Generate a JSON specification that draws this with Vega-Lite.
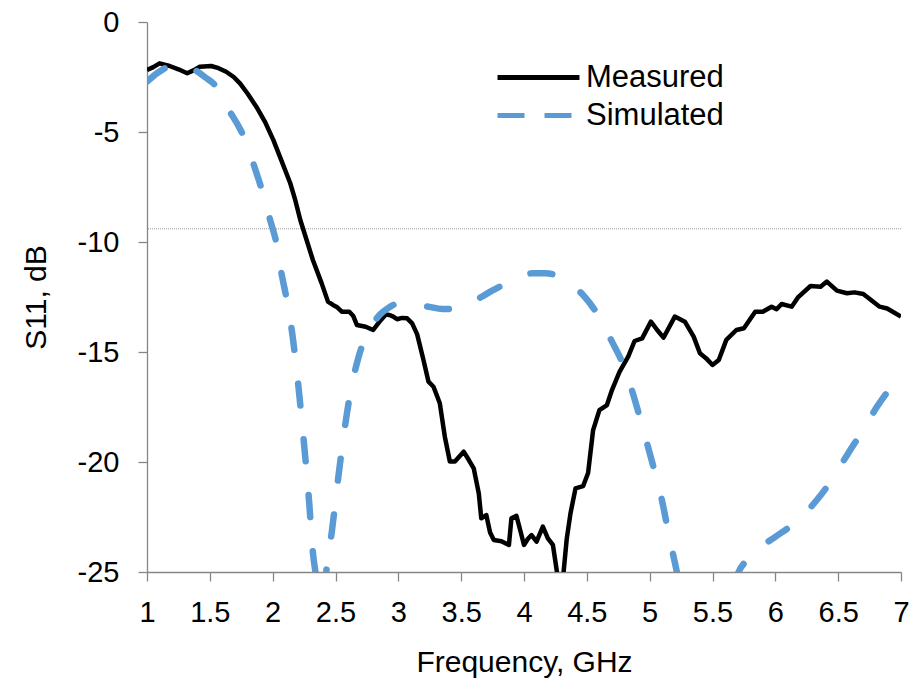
{
  "$schema": "https://vega.github.io/schema/vega-lite/v6.json",
  "width": 754,
  "height": 550,
  "autosize": "none",
  "padding": {"left": 147, "top": 22, "right": 11, "bottom": 116},
  "background": "white",
  "config": {
    "view": {"stroke": null},
    "font": "Liberation Sans",
    "axis": {
      "grid": false,
      "domainColor": "#868686",
      "domainWidth": 1.3,
      "tickColor": "#868686",
      "tickWidth": 1.3,
      "tickSize": 9,
      "labelFont": "Liberation Sans",
      "labelFontSize": 29,
      "labelColor": "#000000",
      "titleFont": "Liberation Sans",
      "titleFontSize": 30,
      "titleFontWeight": "normal",
      "titleColor": "#000000"
    },
    "legend": {
      "labelFont": "Liberation Sans",
      "labelFontSize": 31,
      "labelColor": "#000000"
    }
  },
  "datasets": {
    "curves": [
      {"f": 1.00, "v": -2.18, "series": "Measured"},
      {"f": 1.05, "v": -2.05, "series": "Measured"},
      {"f": 1.10, "v": -1.88, "series": "Measured"},
      {"f": 1.18, "v": -2.0, "series": "Measured"},
      {"f": 1.25, "v": -2.15, "series": "Measured"},
      {"f": 1.32, "v": -2.33, "series": "Measured"},
      {"f": 1.37, "v": -2.2, "series": "Measured"},
      {"f": 1.42, "v": -2.03, "series": "Measured"},
      {"f": 1.51, "v": -2.0, "series": "Measured"},
      {"f": 1.57, "v": -2.1, "series": "Measured"},
      {"f": 1.63, "v": -2.26, "series": "Measured"},
      {"f": 1.69, "v": -2.5, "series": "Measured"},
      {"f": 1.74, "v": -2.79, "series": "Measured"},
      {"f": 1.80, "v": -3.25, "series": "Measured"},
      {"f": 1.87, "v": -3.85, "series": "Measured"},
      {"f": 1.94, "v": -4.55, "series": "Measured"},
      {"f": 2.005, "v": -5.36, "series": "Measured"},
      {"f": 2.07, "v": -6.3, "series": "Measured"},
      {"f": 2.14, "v": -7.33, "series": "Measured"},
      {"f": 2.18, "v": -8.1, "series": "Measured"},
      {"f": 2.22, "v": -9.0, "series": "Measured"},
      {"f": 2.27, "v": -9.91, "series": "Measured"},
      {"f": 2.32, "v": -10.82, "series": "Measured"},
      {"f": 2.39, "v": -11.88, "series": "Measured"},
      {"f": 2.44, "v": -12.71, "series": "Measured"},
      {"f": 2.48, "v": -12.86, "series": "Measured"},
      {"f": 2.51, "v": -12.95, "series": "Measured"},
      {"f": 2.55, "v": -13.17, "series": "Measured"},
      {"f": 2.61, "v": -13.17, "series": "Measured"},
      {"f": 2.64, "v": -13.35, "series": "Measured"},
      {"f": 2.67, "v": -13.77, "series": "Measured"},
      {"f": 2.74, "v": -13.85, "series": "Measured"},
      {"f": 2.80, "v": -14.0, "series": "Measured"},
      {"f": 2.85, "v": -13.62, "series": "Measured"},
      {"f": 2.90, "v": -13.3, "series": "Measured"},
      {"f": 2.93, "v": -13.32, "series": "Measured"},
      {"f": 2.96, "v": -13.39, "series": "Measured"},
      {"f": 2.99, "v": -13.51, "series": "Measured"},
      {"f": 3.03, "v": -13.45, "series": "Measured"},
      {"f": 3.07, "v": -13.47, "series": "Measured"},
      {"f": 3.11, "v": -13.7, "series": "Measured"},
      {"f": 3.15, "v": -14.2, "series": "Measured"},
      {"f": 3.20, "v": -15.36, "series": "Measured"},
      {"f": 3.24, "v": -16.35, "series": "Measured"},
      {"f": 3.28, "v": -16.58, "series": "Measured"},
      {"f": 3.33, "v": -17.33, "series": "Measured"},
      {"f": 3.37, "v": -18.85, "series": "Measured"},
      {"f": 3.41, "v": -19.98, "series": "Measured"},
      {"f": 3.45, "v": -19.98, "series": "Measured"},
      {"f": 3.52, "v": -19.53, "series": "Measured"},
      {"f": 3.56, "v": -19.9, "series": "Measured"},
      {"f": 3.60, "v": -20.29, "series": "Measured"},
      {"f": 3.64, "v": -21.42, "series": "Measured"},
      {"f": 3.66, "v": -22.56, "series": "Measured"},
      {"f": 3.70, "v": -22.41, "series": "Measured"},
      {"f": 3.73, "v": -23.2, "series": "Measured"},
      {"f": 3.76, "v": -23.55, "series": "Measured"},
      {"f": 3.82, "v": -23.6, "series": "Measured"},
      {"f": 3.88, "v": -23.77, "series": "Measured"},
      {"f": 3.90, "v": -22.56, "series": "Measured"},
      {"f": 3.94, "v": -22.45, "series": "Measured"},
      {"f": 3.97, "v": -23.1, "series": "Measured"},
      {"f": 4.00, "v": -23.77, "series": "Measured"},
      {"f": 4.03, "v": -23.5, "series": "Measured"},
      {"f": 4.06, "v": -23.32, "series": "Measured"},
      {"f": 4.10, "v": -23.62, "series": "Measured"},
      {"f": 4.15, "v": -22.94, "series": "Measured"},
      {"f": 4.19, "v": -23.47, "series": "Measured"},
      {"f": 4.23, "v": -23.77, "series": "Measured"},
      {"f": 4.27, "v": -25.3, "series": "Measured"},
      {"f": 4.29, "v": -26.5, "series": "Measured"},
      {"f": 4.31, "v": -25.3, "series": "Measured"},
      {"f": 4.34, "v": -23.5, "series": "Measured"},
      {"f": 4.37, "v": -22.33, "series": "Measured"},
      {"f": 4.41, "v": -21.2, "series": "Measured"},
      {"f": 4.47, "v": -21.1, "series": "Measured"},
      {"f": 4.51, "v": -20.5, "series": "Measured"},
      {"f": 4.55, "v": -18.55, "series": "Measured"},
      {"f": 4.60, "v": -17.64, "series": "Measured"},
      {"f": 4.66, "v": -17.41, "series": "Measured"},
      {"f": 4.70, "v": -16.73, "series": "Measured"},
      {"f": 4.76, "v": -15.9, "series": "Measured"},
      {"f": 4.83, "v": -15.2, "series": "Measured"},
      {"f": 4.88, "v": -14.5, "series": "Measured"},
      {"f": 4.94, "v": -14.38, "series": "Measured"},
      {"f": 5.01, "v": -13.62, "series": "Measured"},
      {"f": 5.06, "v": -14.0, "series": "Measured"},
      {"f": 5.11, "v": -14.35, "series": "Measured"},
      {"f": 5.20, "v": -13.39, "series": "Measured"},
      {"f": 5.28, "v": -13.62, "series": "Measured"},
      {"f": 5.35, "v": -14.3, "series": "Measured"},
      {"f": 5.40, "v": -15.06, "series": "Measured"},
      {"f": 5.45, "v": -15.29, "series": "Measured"},
      {"f": 5.50, "v": -15.59, "series": "Measured"},
      {"f": 5.55, "v": -15.36, "series": "Measured"},
      {"f": 5.61, "v": -14.45, "series": "Measured"},
      {"f": 5.69, "v": -14.0, "series": "Measured"},
      {"f": 5.75, "v": -13.92, "series": "Measured"},
      {"f": 5.84, "v": -13.17, "series": "Measured"},
      {"f": 5.90, "v": -13.17, "series": "Measured"},
      {"f": 5.97, "v": -12.94, "series": "Measured"},
      {"f": 6.01, "v": -13.06, "series": "Measured"},
      {"f": 6.05, "v": -12.82, "series": "Measured"},
      {"f": 6.13, "v": -12.94, "series": "Measured"},
      {"f": 6.18, "v": -12.52, "series": "Measured"},
      {"f": 6.28, "v": -12.0, "series": "Measured"},
      {"f": 6.36, "v": -12.03, "series": "Measured"},
      {"f": 6.41, "v": -11.8, "series": "Measured"},
      {"f": 6.49, "v": -12.21, "series": "Measured"},
      {"f": 6.57, "v": -12.33, "series": "Measured"},
      {"f": 6.63, "v": -12.29, "series": "Measured"},
      {"f": 6.70, "v": -12.36, "series": "Measured"},
      {"f": 6.83, "v": -12.94, "series": "Measured"},
      {"f": 6.89, "v": -13.02, "series": "Measured"},
      {"f": 7.00, "v": -13.39, "series": "Measured"},
      {"f": 1.00, "v": -2.71, "series": "Simulated"},
      {"f": 1.08, "v": -2.33, "series": "Simulated"},
      {"f": 1.17, "v": -2.03, "series": "Simulated"},
      {"f": 1.25, "v": -1.95, "series": "Simulated"},
      {"f": 1.32, "v": -2.0, "series": "Simulated"},
      {"f": 1.38, "v": -2.18, "series": "Simulated"},
      {"f": 1.46, "v": -2.5, "series": "Simulated"},
      {"f": 1.55, "v": -2.94, "series": "Simulated"},
      {"f": 1.60, "v": -3.45, "series": "Simulated"},
      {"f": 1.66, "v": -4.08, "series": "Simulated"},
      {"f": 1.72, "v": -4.65, "series": "Simulated"},
      {"f": 1.77, "v": -5.21, "series": "Simulated"},
      {"f": 1.85, "v": -6.5, "series": "Simulated"},
      {"f": 1.91, "v": -7.56, "series": "Simulated"},
      {"f": 1.98, "v": -9.0, "series": "Simulated"},
      {"f": 2.03, "v": -10.06, "series": "Simulated"},
      {"f": 2.07, "v": -11.42, "series": "Simulated"},
      {"f": 2.11, "v": -12.56, "series": "Simulated"},
      {"f": 2.15, "v": -13.92, "series": "Simulated"},
      {"f": 2.20, "v": -16.3, "series": "Simulated"},
      {"f": 2.25, "v": -19.2, "series": "Simulated"},
      {"f": 2.29, "v": -21.8, "series": "Simulated"},
      {"f": 2.32, "v": -24.1, "series": "Simulated"},
      {"f": 2.35, "v": -25.4, "series": "Simulated"},
      {"f": 2.39, "v": -27.5, "series": "Simulated"},
      {"f": 2.43, "v": -24.8, "series": "Simulated"},
      {"f": 2.47, "v": -23.2, "series": "Simulated"},
      {"f": 2.52, "v": -20.8, "series": "Simulated"},
      {"f": 2.57, "v": -18.6, "series": "Simulated"},
      {"f": 2.62, "v": -16.8, "series": "Simulated"},
      {"f": 2.68, "v": -15.3, "series": "Simulated"},
      {"f": 2.74, "v": -14.3, "series": "Simulated"},
      {"f": 2.80, "v": -13.7, "series": "Simulated"},
      {"f": 2.85, "v": -13.32, "series": "Simulated"},
      {"f": 2.92, "v": -13.0, "series": "Simulated"},
      {"f": 3.00, "v": -12.8, "series": "Simulated"},
      {"f": 3.10, "v": -12.82, "series": "Simulated"},
      {"f": 3.24, "v": -12.94, "series": "Simulated"},
      {"f": 3.35, "v": -13.05, "series": "Simulated"},
      {"f": 3.45, "v": -13.05, "series": "Simulated"},
      {"f": 3.55, "v": -12.85, "series": "Simulated"},
      {"f": 3.66, "v": -12.5, "series": "Simulated"},
      {"f": 3.75, "v": -12.2, "series": "Simulated"},
      {"f": 3.85, "v": -11.9, "series": "Simulated"},
      {"f": 3.95, "v": -11.6, "series": "Simulated"},
      {"f": 4.07, "v": -11.42, "series": "Simulated"},
      {"f": 4.17, "v": -11.42, "series": "Simulated"},
      {"f": 4.27, "v": -11.55, "series": "Simulated"},
      {"f": 4.37, "v": -11.9, "series": "Simulated"},
      {"f": 4.47, "v": -12.41, "series": "Simulated"},
      {"f": 4.58, "v": -13.24, "series": "Simulated"},
      {"f": 4.70, "v": -14.53, "series": "Simulated"},
      {"f": 4.79, "v": -15.59, "series": "Simulated"},
      {"f": 4.87, "v": -16.95, "series": "Simulated"},
      {"f": 4.92, "v": -17.94, "series": "Simulated"},
      {"f": 4.99, "v": -19.38, "series": "Simulated"},
      {"f": 5.04, "v": -20.44, "series": "Simulated"},
      {"f": 5.10, "v": -21.8, "series": "Simulated"},
      {"f": 5.14, "v": -22.94, "series": "Simulated"},
      {"f": 5.19, "v": -24.3, "series": "Simulated"},
      {"f": 5.22, "v": -25.1, "series": "Simulated"},
      {"f": 5.30, "v": -28.0, "series": "Simulated"},
      {"f": 5.45, "v": -31.0, "series": "Simulated"},
      {"f": 5.60, "v": -28.5, "series": "Simulated"},
      {"f": 5.70, "v": -25.1, "series": "Simulated"},
      {"f": 5.81, "v": -24.3, "series": "Simulated"},
      {"f": 5.90, "v": -23.8, "series": "Simulated"},
      {"f": 6.00, "v": -23.4, "series": "Simulated"},
      {"f": 6.17, "v": -22.7, "series": "Simulated"},
      {"f": 6.33, "v": -21.73, "series": "Simulated"},
      {"f": 6.45, "v": -20.8, "series": "Simulated"},
      {"f": 6.58, "v": -19.6, "series": "Simulated"},
      {"f": 6.69, "v": -18.62, "series": "Simulated"},
      {"f": 6.81, "v": -17.48, "series": "Simulated"},
      {"f": 6.93, "v": -16.5, "series": "Simulated"},
      {"f": 7.00, "v": -15.9, "series": "Simulated"}
    ],
    "threshold": [{"v": -9.4}]
  },
  "layer": [
    {
      "data": {"name": "threshold"},
      "mark": {"type": "rule", "color": "#7f7f7f", "strokeWidth": 0.8, "strokeDash": [1, 1]},
      "encoding": {
        "y": {"field": "v", "type": "quantitative", "scale": {"domain": [-25, 0], "nice": false, "zero": false}}
      }
    },
    {
      "data": {"name": "curves"},
      "transform": [{"filter": "datum.series === 'Measured'"}],
      "mark": {"type": "line", "strokeWidth": 4.5, "clip": true, "strokeJoin": "round"},
      "encoding": {
        "x": {
          "field": "f", "type": "quantitative",
          "scale": {"domain": [1, 7], "nice": false, "zero": false},
          "axis": {"values": [1, 1.5, 2, 2.5, 3, 3.5, 4, 4.5, 5, 5.5, 6, 6.5, 7], "format": "~g", "title": "Frequency, GHz", "labelPadding": 17, "titlePadding": 20, "labelFlush": false}
        },
        "y": {
          "field": "v", "type": "quantitative",
          "scale": {"domain": [-25, 0], "nice": false, "zero": false},
          "axis": {"values": [-25, -20, -15, -10, -5, 0], "labelExpr": "'' + datum.value", "title": "S11, dB", "labelPadding": 19, "titlePadding": 26}
        },
        "color": {
          "field": "series", "type": "nominal",
          "scale": {"domain": ["Measured", "Simulated"], "range": ["#000000", "#5B9BD5"]},
          "legend": {
            "title": null,
            "orient": "none",
            "legendX": 376,
            "legendY": 40,
            "symbolType": "M-4,0H4",
            "symbolSize": 420,
            "symbolStrokeWidth": 5,
            "labelOffset": 32,
            "rowPadding": 6,
            "encode": {
              "symbols": {
                "update": {
                  "strokeDash": {"signal": "datum.value === 'Simulated' ? [27, 20] : [1, 0]"},
                  "fill": {"value": "transparent"}
                }
              }
            }
          }
        }
      }
    },
    {
      "data": {"name": "curves"},
      "transform": [{"filter": "datum.series === 'Simulated'"}],
      "mark": {"type": "line", "strokeWidth": 6.5, "clip": true, "strokeCap": "round", "strokeDash": [22, 34], "interpolate": "monotone"},
      "encoding": {
        "x": {"field": "f", "type": "quantitative"},
        "y": {"field": "v", "type": "quantitative"},
        "color": {"field": "series", "type": "nominal"}
      }
    }
  ]
}
